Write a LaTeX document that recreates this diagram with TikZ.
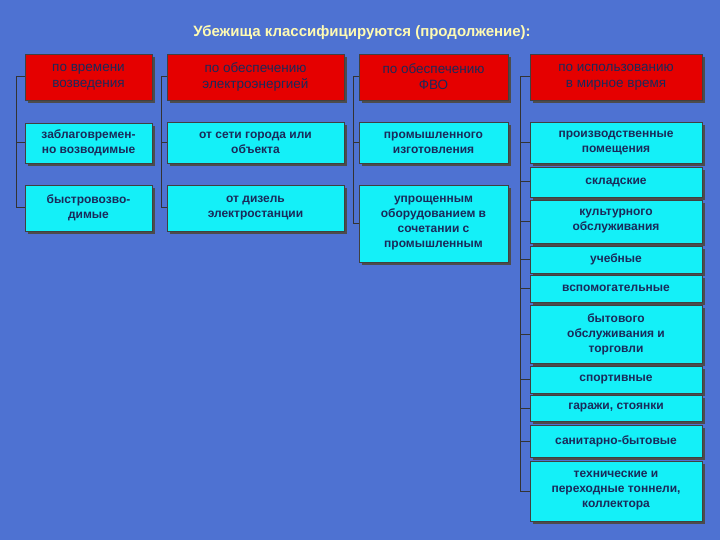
\documentclass[tikz,border=0pt]{standalone}
\usepackage{fontspec}
\setmainfont{Liberation Sans}
\begin{document}
\begin{tikzpicture}[x=1pt,y=-1pt,
  box/.style={draw=black!75,line width=0.8pt,fill=cybox,text=txt,font=\bfseries\fontsize{12}{15}\selectfont,align=center,inner sep=1pt},
  hdr/.style={box,fill=red!90!black,font=\fontsize{13.5}{16}\selectfont},
  conn/.style={draw=black!80,line width=1pt}]
\definecolor{bg}{HTML}{4E72D2}
\definecolor{cybox}{HTML}{14F0F8}
\definecolor{txt}{HTML}{1A2A5A}
\fill[bg] (0,0) rectangle (720,540);
\useasboundingbox (0,0) rectangle (720,540);
\node[text=yellow!30!white,font=\bfseries\fontsize{15}{17}\selectfont] (title) at (362,33) {Убежища классифицируются (продолжение):};
\newcommand\bx[7]{%
  \fill[black!70] (#2+3,#3+3) rectangle (#4+3,#5+3);
  \node[#1,minimum width=#4-#2,minimum height=#5-#3] (#6) at ({(#2+#4)/2},{(#3+#5)/2}) {#7};}
% column 1
\bx{hdr}{25}{54}{152}{100}{h1}{по времени\\возведения}
\bx{box}{25}{123}{152}{163}{a1}{заблаговремен-\\но возводимые}
\bx{box}{25}{185}{152}{231}{a2}{быстровозво-\\димые}
% column 2
\bx{hdr}{167}{54}{344}{100}{h2}{по обеспечению\\электроэнергией}
\bx{box}{167}{122}{344}{163}{b1}{от сети города или\\объекта}
\bx{box}{167}{185}{344}{231}{b2}{от дизель\\электростанции}
% column 3
\bx{hdr}{359}{54}{508}{100}{h3}{по обеспечению\\ФВО}
\bx{box}{359}{122}{508}{163}{c1}{промышленного\\изготовления}
\bx{box}{359}{185}{508}{262}{c2}{упрощенным\\оборудованием в\\сочетании с\\промышленным}
% column 4
\bx{hdr}{530}{54}{702}{100}{h4}{по использованию\\в мирное время}
\bx{box}{530}{122}{702}{163}{d1}{производственные\\помещения}
\bx{box}{530}{167}{702}{197}{d2}{складские}
\bx{box}{530}{200}{702}{243}{d3}{культурного\\обслуживания}
\bx{box}{530}{246}{702}{273}{d4}{учебные}
\bx{box}{530}{275}{702}{302}{d5}{вспомогательные}
\bx{box}{530}{305}{702}{363}{d6}{бытового\\обслуживания и\\торговли}
\bx{box}{530}{366}{702}{393}{d7}{спортивные}
\bx{box}{530}{395}{702}{421}{d8}{гаражи, стоянки}
\bx{box}{530}{425}{702}{457}{d9}{санитарно-бытовые}
\bx{box}{530}{461}{702}{521}{d10}{технические и\\переходные тоннели,\\коллектора}
% connectors
\draw[conn] (h1.west) -| (16,0|-a2.west) -- (a2.west);
\draw[conn] (16,0|-a1.west) -- (a1.west);
\draw[conn] (h2.west) -| (161,0|-b2.west) -- (b2.west);
\draw[conn] (161,0|-b1.west) -- (b1.west);
\draw[conn] (h3.west) -| (353,0|-c2.west) -- (c2.west);
\draw[conn] (353,0|-c1.west) -- (c1.west);
\draw[conn] (h4.west) -| (520,0|-d10.west) -- (d10.west);
\foreach \n in {d1,d2,d3,d4,d5,d6,d7,d8,d9}{\draw[conn] (520,0|-\n.west) -- (\n.west);}
\end{tikzpicture}
\end{document}
